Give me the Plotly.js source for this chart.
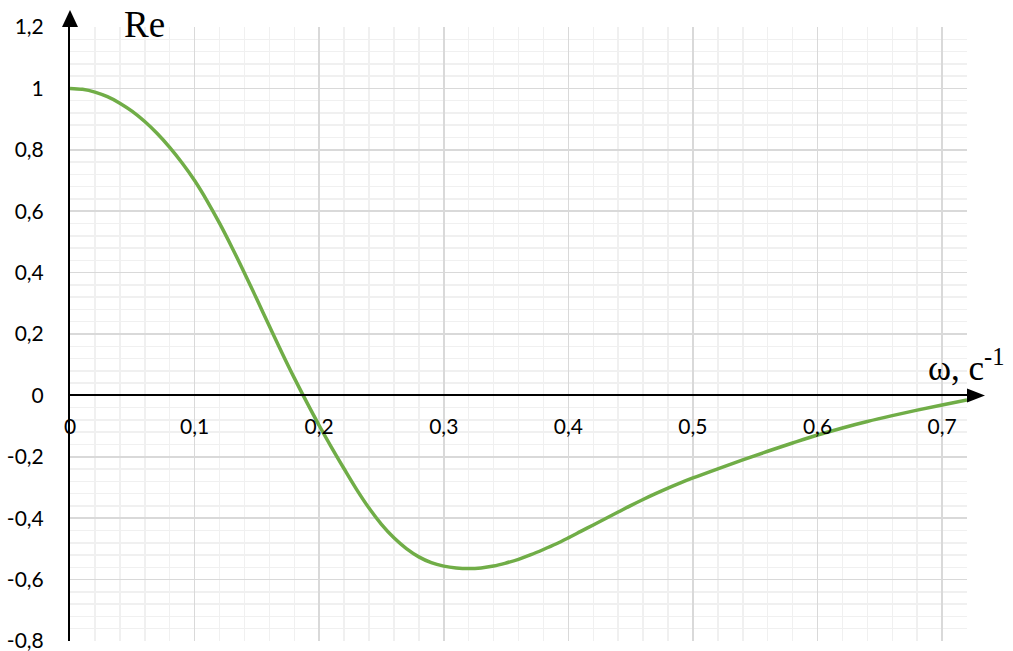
<!DOCTYPE html>
<html>
<head>
<meta charset="utf-8">
<script src="https://cdn.plot.ly/plotly-3.0.1.min.js"></script>
<style>
  html, body { margin: 0; padding: 0; background: #fff; }
  #chart { width: 1013px; height: 651px; }
</style>
</head>
<body>
<div id="chart"></div>
<script>
// ω values (s^-1)
const omega = [0, 0.01, 0.02, 0.03, 0.04, 0.05, 0.06, 0.07, 0.08, 0.09,
  0.10, 0.11, 0.12, 0.13, 0.14, 0.15, 0.16, 0.17, 0.18, 0.19,
  0.20, 0.21, 0.22, 0.23, 0.24, 0.25, 0.26, 0.27, 0.28, 0.29,
  0.30, 0.31, 0.32, 0.33, 0.34, 0.35, 0.36, 0.37, 0.38, 0.39,
  0.40, 0.41, 0.42, 0.43, 0.44, 0.45, 0.46, 0.47, 0.48, 0.49,
  0.50, 0.52, 0.54, 0.56, 0.58, 0.60, 0.62, 0.64, 0.66, 0.68, 0.70, 0.72];
// Re(ω)
const re = [1.000, 0.997, 0.988, 0.973, 0.952, 0.925, 0.892, 0.853, 0.808, 0.757,
  0.700, 0.634, 0.561, 0.482, 0.399, 0.313, 0.226, 0.140, 0.057, -0.022,
  -0.098, -0.170, -0.239, -0.306, -0.367, -0.420, -0.464, -0.499, -0.526, -0.545,
  -0.556, -0.562, -0.564, -0.562, -0.556, -0.546, -0.534, -0.519, -0.502, -0.484,
  -0.464, -0.443, -0.422, -0.401, -0.380, -0.359, -0.339, -0.320, -0.302, -0.285,
  -0.269, -0.239, -0.210, -0.182, -0.155, -0.129, -0.106, -0.085, -0.066, -0.048, -0.031, -0.015];

const xRange = [0, 0.72];
const yRange = [-0.8, 1.2];
const xTickVals = [0, 0.1, 0.2, 0.3, 0.4, 0.5, 0.6, 0.7];
const xTickText = ['0', '0,1', '0,2', '0,3', '0,4', '0,5', '0,6', '0,7'];
const yTickVals = [-0.8, -0.6, -0.4, -0.2, 0, 0.2, 0.4, 0.6, 0.8, 1, 1.2];
const yTickText = ['-0,8', '-0,6', '-0,4', '-0,2', '0', '0,2', '0,4', '0,6', '0,8', '1', '1,2'];
const yTitle = 'Re';
const xTitle = 'ω, с<sup>-1</sup>';

const zeroPaperY = (0 - yRange[0]) / (yRange[1] - yRange[0]);
const tickFont = { family: 'Lato, "Open Sans", sans-serif', size: 21, color: '#000' };
const serif = '"Liberation Serif", "Times New Roman", serif';

const trace = {
  x: omega, y: re, type: 'scatter', mode: 'lines',
  line: { color: '#70ad47', width: 3.5, shape: 'spline', smoothing: 1 },
  hoverinfo: 'skip', showlegend: false
};

const layout = {
  width: 1013, height: 651,
  margin: { l: 70, r: 46, t: 27, b: 10 },
  paper_bgcolor: '#fff', plot_bgcolor: '#fff',
  showlegend: false,
  xaxis: {
    range: xRange, anchor: 'free', position: zeroPaperY,
    tickmode: 'array', tickvals: xTickVals, ticktext: xTickText,
    ticks: '', ticklabelstandoff: 12, tickfont: tickFont, ticklabeloverflow: 'allow',
    showline: true, linecolor: '#000', linewidth: 2,
    showgrid: true, gridcolor: '#d9d9d9', gridwidth: 1.5, zeroline: false,
    minor: { tickmode: 'linear', tick0: 0, dtick: 0.02, showgrid: true,
             gridcolor: '#f0f0f0', gridwidth: 1.5, ticks: '' },
    fixedrange: true
  },
  yaxis: {
    range: yRange,
    tickmode: 'array', tickvals: yTickVals, ticktext: yTickText,
    ticks: '', ticklabelstandoff: 20, tickfont: tickFont, ticklabeloverflow: 'allow',
    showline: true, linecolor: '#000', linewidth: 2,
    showgrid: true, gridcolor: '#d9d9d9', gridwidth: 1.5, zeroline: false,
    minor: { tickmode: 'linear', tick0: 0, dtick: 0.04, showgrid: true,
             gridcolor: '#f0f0f0', gridwidth: 1.5, ticks: '' },
    fixedrange: true
  },
  shapes: [
    { type: 'path', xref: 'paper', yref: 'paper', xsizemode: 'pixel', ysizemode: 'pixel',
      xanchor: 1, yanchor: zeroPaperY, path: 'M 0,-7 L 18,0 L 0,7 Z',
      fillcolor: '#000', line: { width: 0 } },
    { type: 'path', xref: 'paper', yref: 'paper', xsizemode: 'pixel', ysizemode: 'pixel',
      xanchor: 0, yanchor: 1, path: 'M -8,0 L 0,17 L 8,0 Z',
      fillcolor: '#000', line: { width: 0 } }
  ],
  annotations: [
    { text: yTitle, xref: 'paper', yref: 'paper', x: 0.0836, y: 1, xanchor: 'center', yanchor: 'middle',
      yshift: 3, showarrow: false, font: { family: serif, size: 37, color: '#000' } },
    { text: xTitle, xref: 'paper', yref: 'paper', x: 0.954, y: 0.4414, xanchor: 'left', yanchor: 'middle',
      yshift: 4, showarrow: false, font: { family: serif, size: 35, color: '#000' } }
  ]
};

Plotly.newPlot('chart', [trace], layout, { displayModeBar: false, staticPlot: true });
</script>
</body>
</html>
